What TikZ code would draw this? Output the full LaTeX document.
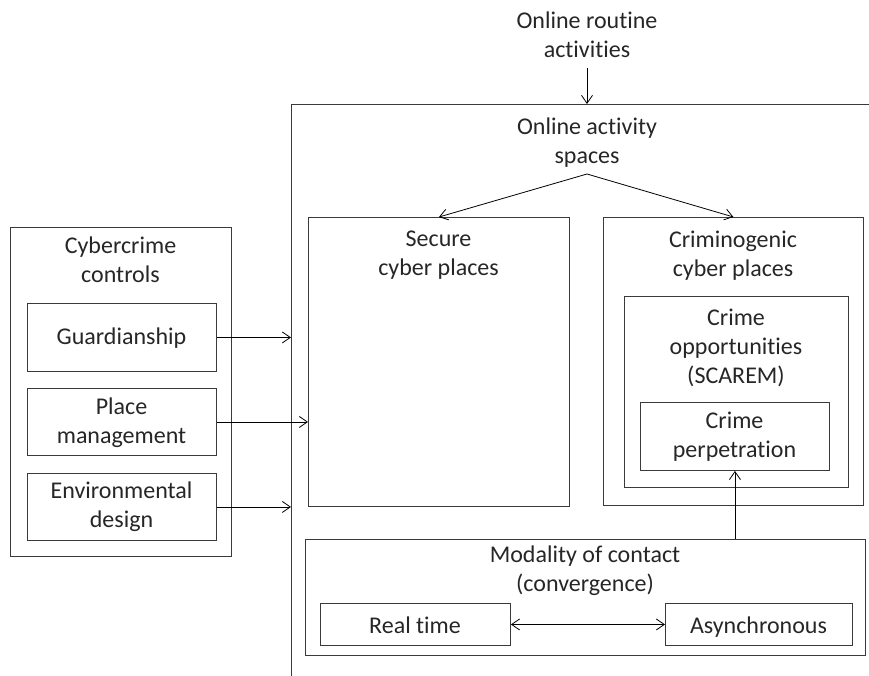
\documentclass[tikz,border=0pt]{standalone}
\usepackage{fontspec}
% plain letter pairs, no "ti"/"tt" ligatures
\setmainfont{Carlito}[Ligatures={NoCommon,NoRare,NoContextual},RawFeature={-liga;-clig;-calt;-dlig}]
\usetikzlibrary{arrows.meta}
\definecolor{ink}{HTML}{262626}
\definecolor{rule}{HTML}{3A3A3A}
\begin{document}
\begin{tikzpicture}[x=1pt,y=-1pt,
  box/.style={draw=rule, line width=0.9pt, inner sep=0pt, anchor=north west},
  frame/.style={draw=rule, line width=0.9pt},
  % multi-line texts are placed by the baseline of their last line
  txt/.style={font=\fontsize{24}{29}\selectfont, align=center, inner sep=0pt, text=ink, anchor=base},
  link/.style={draw=black, line width=0.8pt, -{Straight Barb[length=8pt,width=11pt]}},
  both/.style={draw=black, line width=0.8pt, {Straight Barb[length=8pt,width=11pt]}-{Straight Barb[length=8pt,width=11pt]}}]
\useasboundingbox (0,0) rectangle (869,675);

% outer activity region, open to the right and bottom
\coordinate (fbl) at (291,676);
\coordinate (ftl) at (291,104);
\coordinate (ftr) at (870,104);
\draw[frame] (fbl) -- (ftl) -- (ftr);

% controls column
\node[box, minimum width=221pt, minimum height=329pt] (ctrl) at (10,227) {};
\node[box, minimum width=189pt, minimum height=68pt] (guard) at (27,303) {};
\node[box, minimum width=189pt, minimum height=67pt] (place) at (27,388) {};
\node[box, minimum width=189pt, minimum height=67pt] (env) at (27,473) {};

% cyber places
\node[box, minimum width=261pt, minimum height=289pt] (secure) at (308,217) {};
\node[box, minimum width=260pt, minimum height=288pt] (crim) at (603,217) {};
\node[box, minimum width=224pt, minimum height=191pt] (opp) at (624,296) {};
\node[box, minimum width=189pt, minimum height=68pt] (perp) at (640,402) {};

% modality of contact
\node[box, minimum width=560pt, minimum height=116pt] (modal) at (305,539) {};
\node[box, minimum width=190pt, minimum height=42pt] (real) at (320,603) {};
\node[box, minimum width=187pt, minimum height=42pt] (async) at (665,603) {};

% texts
\node[txt] (routine) at (587,57) {Online routine\\activities};
\node[txt] (spaces) at (587,163) {Online activity\\spaces};
\node[txt] (ctrltxt) at (120.5,282) {Cybercrime\\controls};
\node[txt] (guardtxt) at (121.5,344) {Guardianship};
\node[txt] (placetxt) at (121.5,443) {Place\\management};
\node[txt] (envtxt) at (121.5,527) {Environmental\\design};
\node[txt] (securetxt) at (438.5,275) {Secure\\cyber places};
\node[txt] (crimtxt) at (733,276) {Criminogenic\\cyber places};
\node[txt] (opptxt) at (736,383) {Crime\\opportunities\\(SCAREM)};
\node[txt] (perptxt) at (734.5,457) {Crime\\perpetration};
\node[txt] (modaltxt) at (585,591) {Modality of contact\\(convergence)};
\node[txt] (realtxt) at (415,633) {Real time};
\node[txt] (asynctxt) at (758.5,633) {Asynchronous};

% connectors
\coordinate (rtop) at (587,68);
\coordinate (fork) at (587,174);
\draw[link] (rtop) -- (rtop |- ftl);
\draw[link] (fork) -- (secure.north);
\draw[link] (fork) -- (crim.north);
\draw[link] (guard.east) -- (guard.east -| ftl);
\draw[link] (place.east) -- (place.east -| secure.west);
\draw[link] (env.east) -- (env.east -| ftl);
\draw[link] (perp.south |- modal.north) -- (perp.south);
\draw[both] (real.east) -- (async.west);
\end{tikzpicture}
\end{document}
